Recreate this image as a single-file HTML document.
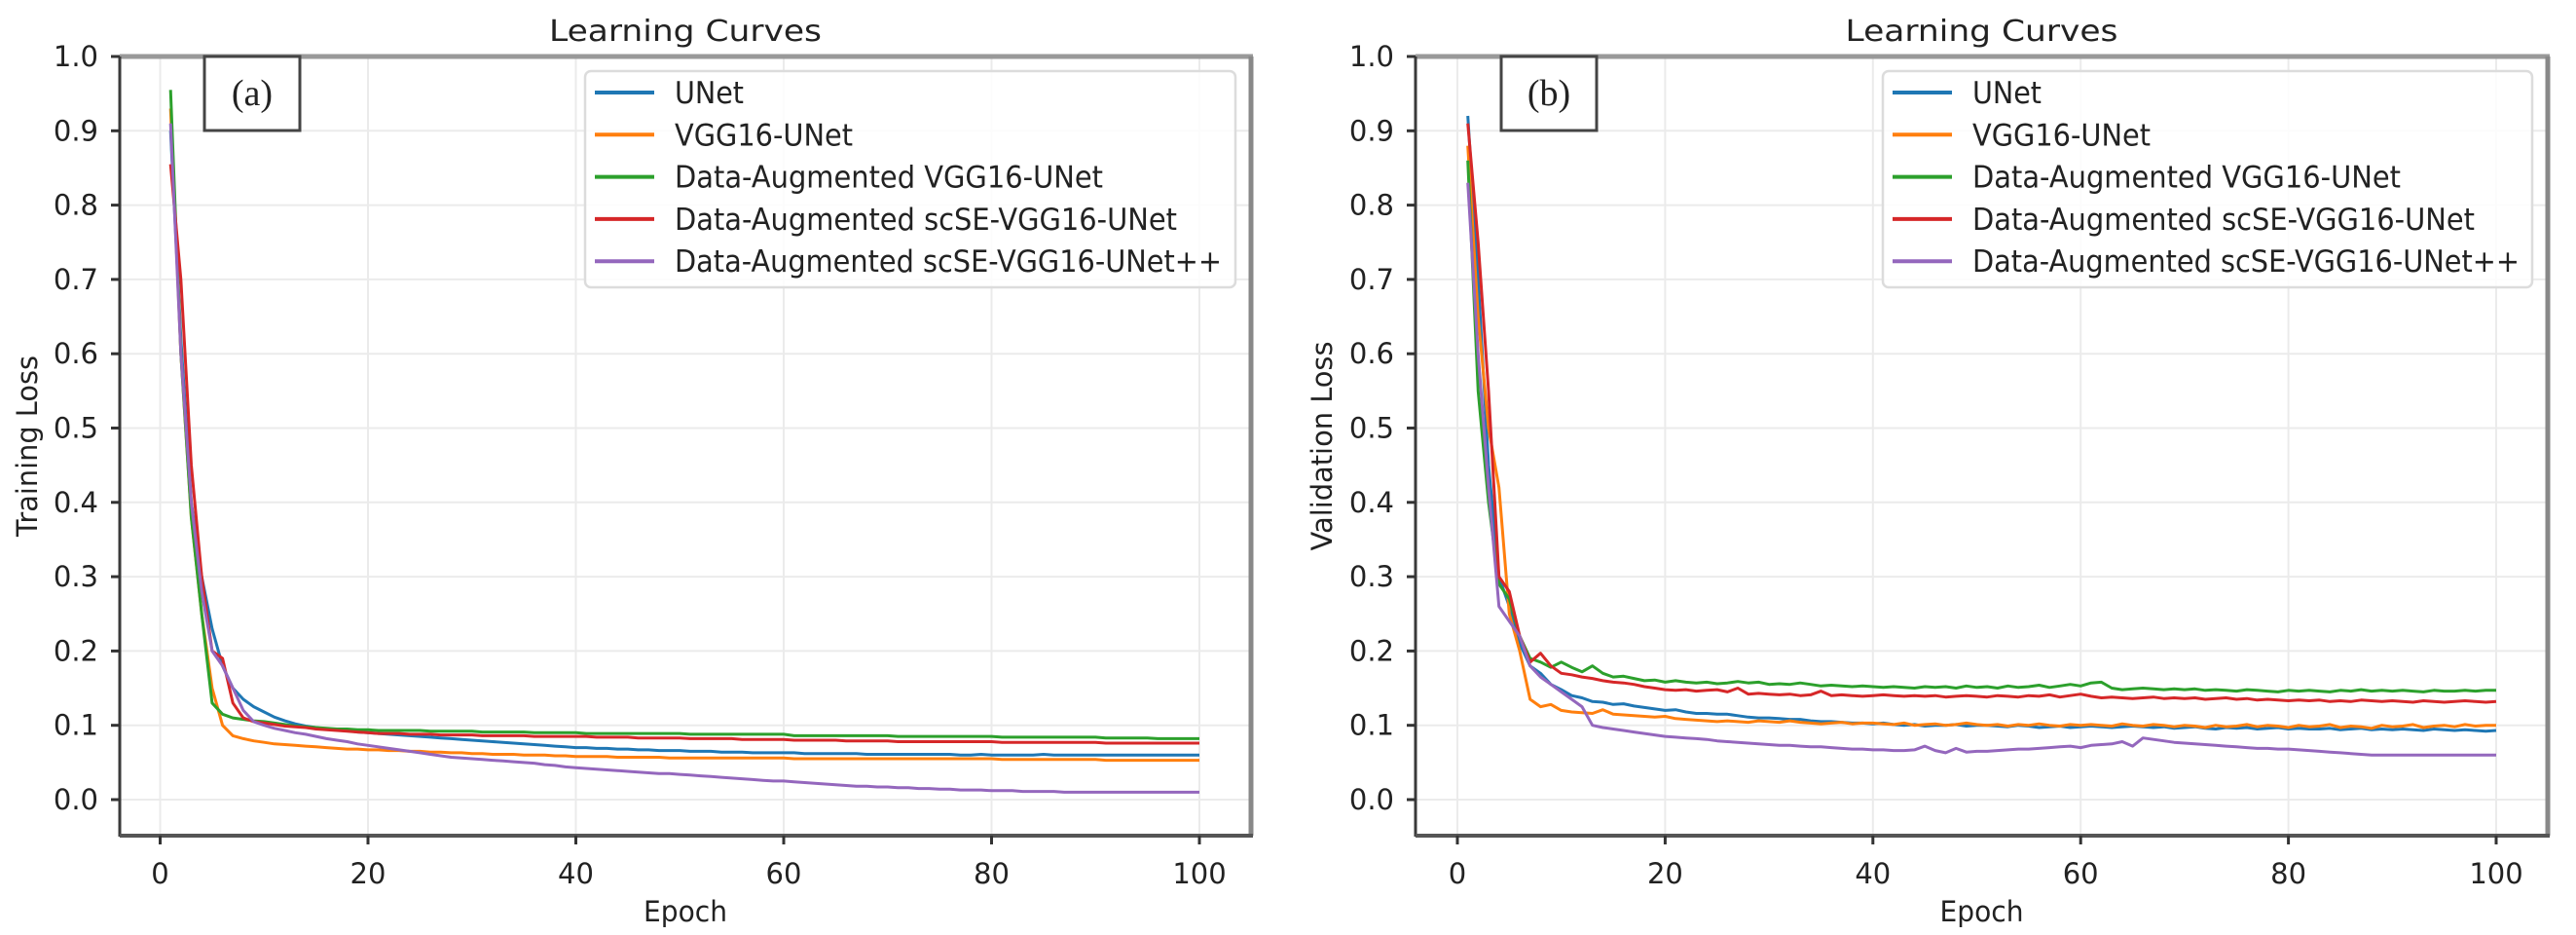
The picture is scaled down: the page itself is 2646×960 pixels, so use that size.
<!DOCTYPE html>
<html><head><meta charset="utf-8"><style>
html,body{margin:0;padding:0;background:#fff;}
svg{display:block;font-family:"DejaVu Sans","Liberation Sans",sans-serif;}
</style></head><body>
<svg id="fig" width="2646" height="960" viewBox="0 0 2646 960" xmlns="http://www.w3.org/2000/svg"></svg>
<script>
const epochs = Array.from({length:100},(_,i)=>i+1);
const seriesNames = ["UNet","VGG16-UNet","Data-Augmented VGG16-UNet","Data-Augmented scSE-VGG16-UNet","Data-Augmented scSE-VGG16-UNet++"];
const seriesColors = ["#1f77b4","#ff7f0e","#2ca02c","#d62728","#9467bd"];
const xTicks = [0,20,40,60,80,100];
const yTicks = [0.0,0.1,0.2,0.3,0.4,0.5,0.6,0.7,0.8,0.9,1.0];

const trainUNet = [0.90,0.62,0.40,0.30,0.23,0.18,0.15,0.135,0.125,0.118,
0.111,0.106,0.102,0.099,0.097,0.095,0.094,0.093,0.091,0.090,
0.089,0.088,0.087,0.086,0.085,0.084,0.083,0.082,0.081,0.080,
0.079,0.078,0.077,0.076,0.075,0.074,0.073,0.072,0.071,0.070,
0.070,0.069,0.069,0.068,0.068,0.067,0.067,0.066,0.066,0.066,
0.065,0.065,0.065,0.064,0.064,0.064,0.063,0.063,0.063,0.063,
0.063,0.062,0.062,0.062,0.062,0.062,0.062,0.061,0.061,0.061,
0.061,0.061,0.061,0.061,0.061,0.061,0.060,0.060,0.061,0.060,
0.060,0.060,0.060,0.060,0.061,0.060,0.060,0.060,0.060,0.060,
0.060,0.060,0.060,0.060,0.060,0.060,0.060,0.060,0.060,0.060];
const trainVGG = [0.93,0.60,0.38,0.25,0.15,0.10,0.086,0.082,0.079,0.077,
0.075,0.074,0.073,0.072,0.071,0.070,0.069,0.068,0.068,0.067,
0.067,0.066,0.066,0.065,0.065,0.064,0.064,0.063,0.063,0.062,
0.062,0.061,0.061,0.061,0.060,0.060,0.060,0.059,0.059,0.058,
0.058,0.058,0.058,0.057,0.057,0.057,0.057,0.057,0.056,0.056,
0.056,0.056,0.056,0.056,0.056,0.056,0.056,0.056,0.056,0.056,
0.055,0.055,0.055,0.055,0.055,0.055,0.055,0.055,0.055,0.055,
0.055,0.055,0.055,0.055,0.055,0.055,0.055,0.055,0.055,0.055,
0.054,0.054,0.054,0.054,0.054,0.054,0.054,0.054,0.054,0.054,
0.053,0.053,0.053,0.053,0.053,0.053,0.053,0.053,0.053,0.053];
const trainAugVGG = [0.955,0.60,0.38,0.25,0.13,0.115,0.11,0.108,0.106,0.105,
0.103,0.101,0.099,0.098,0.097,0.096,0.095,0.095,0.094,0.094,
0.093,0.093,0.093,0.093,0.093,0.092,0.092,0.092,0.092,0.092,
0.091,0.091,0.091,0.091,0.091,0.090,0.090,0.090,0.090,0.090,
0.089,0.089,0.089,0.089,0.089,0.089,0.089,0.089,0.089,0.089,
0.088,0.088,0.088,0.088,0.088,0.088,0.088,0.088,0.088,0.088,
0.086,0.086,0.086,0.086,0.086,0.086,0.086,0.086,0.086,0.086,
0.085,0.085,0.085,0.085,0.085,0.085,0.085,0.085,0.085,0.085,
0.084,0.084,0.084,0.084,0.084,0.084,0.084,0.084,0.084,0.084,
0.083,0.083,0.083,0.083,0.083,0.082,0.082,0.082,0.082,0.082];
const trainAugSC = [0.855,0.70,0.45,0.30,0.20,0.19,0.13,0.11,0.105,0.103,
0.101,0.099,0.098,0.097,0.095,0.094,0.093,0.092,0.091,0.090,
0.089,0.089,0.089,0.088,0.088,0.088,0.087,0.087,0.087,0.087,
0.086,0.086,0.086,0.086,0.086,0.085,0.085,0.085,0.085,0.085,
0.085,0.084,0.084,0.084,0.084,0.083,0.083,0.083,0.083,0.083,
0.082,0.082,0.082,0.082,0.082,0.081,0.081,0.081,0.081,0.081,
0.080,0.080,0.080,0.080,0.080,0.079,0.079,0.079,0.079,0.079,
0.078,0.078,0.078,0.078,0.078,0.078,0.078,0.078,0.078,0.078,
0.077,0.077,0.077,0.077,0.077,0.077,0.077,0.077,0.077,0.077,
0.076,0.076,0.076,0.076,0.076,0.076,0.076,0.076,0.076,0.076];
const trainAugSCpp = [0.91,0.60,0.40,0.28,0.20,0.18,0.15,0.12,0.105,0.100,
0.096,0.093,0.090,0.088,0.085,0.082,0.080,0.078,0.075,0.073,
0.071,0.069,0.067,0.065,0.063,0.061,0.059,0.057,0.056,0.055,
0.054,0.053,0.052,0.051,0.050,0.049,0.047,0.046,0.044,0.043,
0.042,0.041,0.040,0.039,0.038,0.037,0.036,0.035,0.035,0.034,
0.033,0.032,0.031,0.030,0.029,0.028,0.027,0.026,0.025,0.025,
0.024,0.023,0.022,0.021,0.020,0.019,0.018,0.018,0.017,0.017,
0.016,0.016,0.015,0.015,0.014,0.014,0.013,0.013,0.013,0.012,
0.012,0.012,0.011,0.011,0.011,0.011,0.010,0.010,0.010,0.010,
0.010,0.010,0.010,0.010,0.010,0.010,0.010,0.010,0.010,0.010];

const valUNet = [0.92,0.70,0.45,0.30,0.26,0.21,0.18,0.17,0.155,0.148,
0.140,0.137,0.132,0.131,0.128,0.129,0.126,0.124,0.122,0.120,
0.121,0.118,0.116,0.116,0.115,0.115,0.113,0.111,0.110,0.110,
0.109,0.108,0.108,0.106,0.105,0.105,0.104,0.103,0.103,0.102,
0.103,0.101,0.100,0.101,0.099,0.100,0.100,0.101,0.099,0.100,
0.100,0.099,0.098,0.100,0.099,0.097,0.098,0.099,0.097,0.098,
0.099,0.098,0.097,0.098,0.099,0.098,0.097,0.098,0.096,0.097,
0.098,0.096,0.095,0.097,0.096,0.097,0.095,0.096,0.097,0.095,
0.096,0.095,0.095,0.096,0.094,0.095,0.096,0.094,0.095,0.094,
0.095,0.094,0.093,0.095,0.094,0.093,0.094,0.093,0.092,0.093];
const valVGG = [0.88,0.65,0.50,0.42,0.25,0.20,0.135,0.125,0.128,0.120,
0.118,0.117,0.116,0.121,0.115,0.114,0.113,0.112,0.111,0.112,
0.109,0.108,0.107,0.106,0.105,0.106,0.105,0.104,0.106,0.105,
0.104,0.106,0.104,0.103,0.102,0.103,0.104,0.102,0.103,0.103,
0.102,0.101,0.103,0.100,0.101,0.102,0.100,0.101,0.103,0.101,
0.100,0.101,0.099,0.101,0.100,0.102,0.100,0.099,0.101,0.100,
0.101,0.100,0.099,0.102,0.100,0.099,0.101,0.100,0.098,0.100,
0.099,0.097,0.100,0.098,0.099,0.101,0.098,0.100,0.099,0.097,
0.100,0.098,0.099,0.101,0.097,0.099,0.098,0.096,0.100,0.098,
0.099,0.101,0.097,0.099,0.100,0.098,0.101,0.099,0.100,0.100];
const valAugVGG = [0.86,0.55,0.40,0.29,0.27,0.22,0.19,0.185,0.178,0.185,
0.178,0.172,0.180,0.170,0.165,0.166,0.163,0.160,0.161,0.158,
0.160,0.158,0.157,0.158,0.156,0.157,0.159,0.157,0.158,0.155,
0.156,0.155,0.157,0.155,0.153,0.154,0.153,0.152,0.153,0.152,
0.151,0.152,0.151,0.150,0.152,0.151,0.152,0.150,0.153,0.151,
0.152,0.150,0.153,0.151,0.152,0.154,0.151,0.153,0.155,0.153,
0.157,0.158,0.150,0.148,0.149,0.150,0.149,0.148,0.149,0.148,
0.149,0.147,0.148,0.147,0.146,0.148,0.147,0.146,0.145,0.147,
0.146,0.147,0.146,0.145,0.147,0.146,0.148,0.146,0.147,0.146,
0.147,0.146,0.145,0.147,0.146,0.146,0.147,0.146,0.147,0.147];
const valAugSC = [0.91,0.75,0.55,0.30,0.28,0.22,0.185,0.197,0.180,0.170,
0.168,0.165,0.163,0.160,0.158,0.157,0.155,0.152,0.150,0.148,
0.147,0.148,0.146,0.147,0.148,0.145,0.150,0.142,0.143,0.142,
0.141,0.142,0.140,0.141,0.146,0.140,0.141,0.140,0.139,0.140,
0.141,0.140,0.139,0.140,0.139,0.140,0.138,0.139,0.140,0.139,
0.138,0.140,0.139,0.138,0.140,0.139,0.141,0.138,0.140,0.142,
0.139,0.137,0.138,0.137,0.136,0.137,0.138,0.136,0.137,0.136,
0.137,0.135,0.136,0.137,0.135,0.136,0.134,0.135,0.134,0.133,
0.134,0.133,0.134,0.132,0.133,0.132,0.134,0.133,0.132,0.133,
0.132,0.131,0.133,0.132,0.131,0.132,0.133,0.132,0.131,0.132];
const valAugSCpp = [0.83,0.60,0.42,0.26,0.24,0.22,0.18,0.165,0.155,0.145,
0.135,0.125,0.100,0.097,0.095,0.093,0.091,0.089,0.087,0.085,
0.084,0.083,0.082,0.081,0.079,0.078,0.077,0.076,0.075,0.074,
0.073,0.073,0.072,0.071,0.071,0.070,0.069,0.068,0.068,0.067,
0.067,0.066,0.066,0.067,0.072,0.066,0.063,0.069,0.064,0.065,
0.065,0.066,0.067,0.068,0.068,0.069,0.070,0.071,0.072,0.070,
0.073,0.074,0.075,0.078,0.072,0.083,0.081,0.079,0.077,0.076,
0.075,0.074,0.073,0.072,0.071,0.070,0.069,0.069,0.068,0.068,
0.067,0.066,0.065,0.064,0.063,0.062,0.061,0.060,0.060,0.060,
0.060,0.060,0.060,0.060,0.060,0.060,0.060,0.060,0.060,0.060];

const NS = "http://www.w3.org/2000/svg";
const fig = document.getElementById('fig');
function mk(tag, attrs, parent){
  const e = document.createElementNS(NS, tag);
  for (const k in attrs) e.setAttribute(k, attrs[k]);
  (parent||fig).appendChild(e);
  return e;
}
const legendLens = [71,183,440,516,562];

function panel(cfg){
  const g = mk('g',{});
  
  
  const L=cfg.left, R=cfg.right, T=58, B=858;
  const x0=cfg.x0, x100=cfg.x100, y0=821, y1=58;
  const sx = v => x0 + (v/100)*(x100-x0);
  const sy = v => y0 + v*(y1-y0);
  // grid
  xTicks.forEach(t=>{
    const l = mk('line',{x1:sx(t),x2:sx(t),y1:T,y2:B,stroke:'#ebebeb','stroke-width':2},g);
    
    
  });
  yTicks.forEach(t=>{
    const l = mk('line',{x1:L,x2:R,y1:sy(t),y2:sy(t),stroke:'#ebebeb','stroke-width':2},g);
    
    
  });
  // series
  cfg.data.forEach((arr,i)=>{
    const d = arr.map((v,j)=>(j?'L':'M')+sx(epochs[j]).toFixed(1)+' '+sy(v).toFixed(1)).join(' ');
    const p = mk('path',{d:d,fill:'none',stroke:seriesColors[i],'stroke-width':3,'stroke-linejoin':'round'},g);
    
    
  });
  // frame
  mk('line',{x1:L,x2:R+2,y1:T,y2:T,stroke:'#999','stroke-width':5},g);
  mk('line',{x1:R,x2:R,y1:T,y2:B,stroke:'#888','stroke-width':5},g);
  mk('line',{x1:L,x2:L,y1:T,y2:B+1,stroke:'#3a3a3a','stroke-width':3},g);
  mk('line',{x1:L,x2:R+2,y1:B,y2:B,stroke:'#555','stroke-width':4},g);
  // ticks
  xTicks.forEach(t=>{
    mk('line',{x1:sx(t),x2:sx(t),y1:B,y2:B+9,stroke:'#333','stroke-width':3},g);
    const tx = mk('text',{x:sx(t),y:907,'text-anchor':'middle','font-size':29,fill:'#222'},g);
    tx.textContent = t;
    
    
  });
  yTicks.forEach(t=>{
    mk('line',{x1:L-9,x2:L,y1:sy(t),y2:sy(t),stroke:'#333','stroke-width':3},g);
    const tx = mk('text',{x:L-22,y:sy(t)+10,'text-anchor':'end','font-size':29,fill:'#222'},g);
    tx.textContent = t.toFixed(1);
    
    
  });
  // title
  const ti = mk('text',{x:(L+R)/2,y:42,'text-anchor':'middle','font-size':30,fill:'#222',textLength:280,lengthAdjust:'spacingAndGlyphs'},g);
  ti.textContent='Learning Curves';
  
  
  const xl = mk('text',{x:(L+R)/2,y:946,'text-anchor':'middle','font-size':29,fill:'#222',textLength:86,lengthAdjust:'spacingAndGlyphs'},g);
  xl.textContent='Epoch';
  
  
  const yl = mk('text',{x:0,y:0,'text-anchor':'middle','font-size':29,fill:'#222',textLength:cfg.ylen,lengthAdjust:'spacingAndGlyphs',transform:'translate('+cfg.ylx+',458) rotate(-90)'},g);
  yl.textContent=cfg.ylabel;
  
  
  // panel letter box
  const bx = mk('rect',{x:cfg.boxX,y:T,width:98,height:76,fill:'#fff',stroke:'#444','stroke-width':3},g);
  
  
  const bt = mk('text',{x:cfg.boxX+49,y:T+50,'text-anchor':'middle','font-size':38,fill:'#222','font-family':'"Liberation Serif",serif'},g);
  bt.textContent=cfg.letter;
  
  
  // legend
  const lg = mk('g',{},g);
  
  
  mk('rect',{x:cfg.legX,y:73,width:cfg.legW,height:222,rx:6,fill:'#fff','fill-opacity':0.85,stroke:'#dcdcdc','stroke-width':2.5},lg);
  seriesNames.forEach((n,i)=>{
    const yy = 95 + i*43.3;
    const e = mk('g',{},lg);
    
    
    mk('line',{x1:cfg.legX+10,x2:cfg.legX+71,y1:yy,y2:yy,stroke:seriesColors[i],'stroke-width':4},e);
    const t = mk('text',{x:cfg.legX+92,y:yy+11,'font-size':31,fill:'#222',textLength:legendLens[i],lengthAdjust:'spacingAndGlyphs'},e);
    t.textContent=n;
  });
}

panel({id:'training',left:123,right:1285,x0:164.5,x100:1232,ylabel:'Training Loss',ylen:186,ylx:38,
  boxX:210,letter:'(a)',legX:601,legW:668,
  data:[trainUNet,trainVGG,trainAugVGG,trainAugSC,trainAugSCpp]});
panel({id:'validation',left:1454,right:2617,x0:1497,x100:2564,ylabel:'Validation Loss',ylen:215,ylx:1368,
  boxX:1542,letter:'(b)',legX:1934,legW:667,
  data:[valUNet,valVGG,valAugVGG,valAugSC,valAugSCpp]});
</script>
</body></html>
